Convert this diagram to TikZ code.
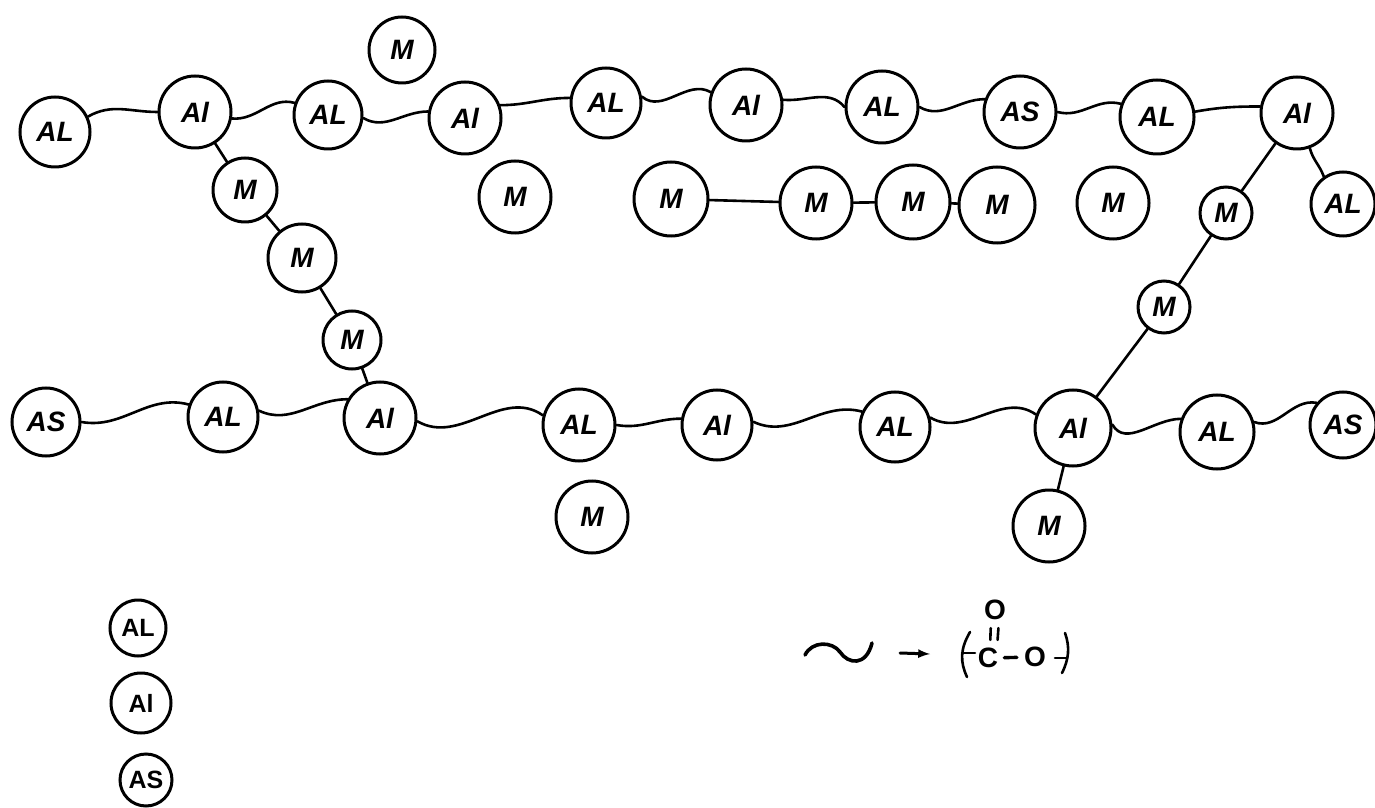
\documentclass[tikz,border=0pt]{standalone}
\usepackage{fontspec}
\setsansfont{Liberation Sans}
\usetikzlibrary{arrows,calc}
\tikzset{
  atom/.style={circle,draw=black,line width=3pt,inner sep=0pt,
    font=\sffamily\bfseries\itshape\fontsize{28}{28}\selectfont},
  keyatom/.style={atom,font=\sffamily\bfseries\fontsize{25}{25}\selectfont},
  bond/.style={line width=2.6pt,line cap=round},
  formula/.style={inner sep=0pt,font=\sffamily\bfseries\fontsize{28}{28}\selectfont}
}

\begin{document}
\begin{tikzpicture}[x=1pt,y=1pt]
\useasboundingbox (0,0) rectangle (1375,807);

% upper chain
\node[atom,minimum size=70pt] (ALa) at (55,675) {AL};
\node[atom,minimum size=72pt] (Ala) at (195,695) {Al};
\node[atom,minimum size=68pt] (ALb) at (328,692) {AL};
\node[atom,minimum size=72pt] (Alb) at (465,689) {Al};
\node[atom,minimum size=70pt] (ALc) at (606,704) {AL};
\node[atom,minimum size=72pt] (Alc) at (746,702) {Al};
\node[atom,minimum size=72pt] (ALd) at (882,700) {AL};
\node[atom,minimum size=72pt] (ASa) at (1020,695) {AS};
\node[atom,minimum size=74pt] (ALe) at (1157,690) {AL};
\node[atom,minimum size=72pt] (Ald) at (1297,694) {Al};
\node[atom,minimum size=64pt] (ALf) at (1343,603) {AL};

% lower chain
\node[atom,minimum size=68pt] (ASb) at (46,385) {AS};
\node[atom,minimum size=70pt] (ALg) at (223,390) {AL};
\node[atom,minimum size=72pt] (Ale) at (380,389) {Al};
\node[atom,minimum size=72pt] (ALh) at (579,382) {AL};
\node[atom,minimum size=70pt] (Alf) at (717,382) {Al};
\node[atom,minimum size=70pt] (ALi) at (895,380) {AL};
\node[atom,minimum size=76pt] (Alg) at (1073,379) {Al};
\node[atom,minimum size=74pt] (ALj) at (1217,375) {AL};
\node[atom,minimum size=66pt] (ASc) at (1343,382) {AS};

% M
\node[atom,minimum size=66pt] (Ma) at (402,757) {M};
\node[atom,minimum size=72pt] (Mb) at (515,610) {M};
\node[atom,minimum size=74pt] (Mc) at (671,608) {M};
\node[atom,minimum size=72pt] (Md) at (816,604) {M};
\node[atom,minimum size=74pt] (Me) at (913,605) {M};
\node[atom,minimum size=76pt] (Mf) at (997,602) {M};
\node[atom,minimum size=72pt] (Mg) at (1113,604) {M};
\node[atom,minimum size=52pt] (Mh) at (1226,594) {M};
\node[atom,minimum size=52pt] (Mi) at (1164,500) {M};
\node[atom,minimum size=64pt] (Mj) at (245,617) {M};
\node[atom,minimum size=68pt] (Mk) at (302,549) {M};
\node[atom,minimum size=58pt] (Ml) at (352,467) {M};
\node[atom,minimum size=72pt] (Mm) at (592,290) {M};
\node[atom,minimum size=72pt] (Mn) at (1049,281) {M};

% key
\node[keyatom,minimum size=56pt] (keyAL) at (138,179) {AL};
\node[keyatom,minimum size=60pt] (keyAl) at (141,104) {Al};
\node[keyatom,minimum size=52pt] (keyAS) at (146,27) {AS};

\draw[bond] (ALa.25) to[out=30,in=180] (Ala.180);
\draw[bond] (Ala.-10) to[out=-5,in=165] (ALb.160);
\draw[bond] (ALb.-5) to[out=-30,in=180] (Alb.170);
\draw[bond] (Alb.20) to[out=0,in=180] (ALc.172);
\draw[bond] (ALc.10) to[out=-40,in=150] (Alc.160);
\draw[bond] (Alc.8) to[out=-5,in=130] (ALd.180);
\draw[bond] (ALd.0) to[out=-30,in=180] (ASa.160);
\draw[bond] (ASa.0) to[out=-15,in=165] (ALe.160);
\draw[bond] (ALe.8) to[out=10,in=180] (Ald.170);
\draw[bond] (Ald.-70) to[out=-75,in=110] (ALf.125);

\draw[bond] (ASb.0) to[out=-10,in=165] (ALg.160);
\draw[bond] (ALg.10) to[out=-25,in=180] (Ale.150);
\draw[bond] (Ale.-5) to[out=-30,in=145] (ALh.165);
\draw[bond] (ALh.0) to[out=-10,in=180] (Alf.170);
\draw[bond] (Alf.5) to[out=-25,in=165] (ALi.155);
\draw[bond] (ALi.15) to[out=-30,in=145] (Alg.160);
\draw[bond] (Alg.5) to[out=-60,in=180] (ALj.160);
\draw[bond] (ALj.15) to[out=-20,in=170] (ASc.140);

\draw[bond] (Ala) -- (Mj);
\draw[bond] (Mj) -- (Mk);
\draw[bond] (Mk) -- (Ml);
\draw[bond] (Ml) -- (Ale);
\draw[bond] (Ald) -- (Mh);
\draw[bond] (Mh) -- (Mi);
\draw[bond] (Mi) -- (Alg);
\draw[bond] (Alg) -- (Mn);
\draw[bond] (Mc) -- (Md);
\draw[bond] (Md) -- (Me);
\draw[bond] (Me) -- (Mf);

% formula
\coordinate (tildeL) at (805,152);
\coordinate (tildeR) at (872,164);
\coordinate (arrowL) at (900,154);
\coordinate (arrowR) at (930,153);
\draw[bond,line width=3.6pt] (tildeL) .. controls (812,166) and (832,166) .. (840,155)
  .. controls (848,143) and (866,140) .. (tildeR);
\draw[bond,line width=3pt,-latex] (arrowL) -- (arrowR);
\node[formula] (Otop) at (995,197) {O};
\node[formula] (Carb) at (988,149) {C};
\node[formula] (Oeth) at (1035,150) {O};
\draw[bond,shorten >=8pt,shorten <=8pt] ([xshift=-4pt]Otop.south) -- ([xshift=2pt]Carb.north);
\draw[bond,shorten >=8pt,shorten <=8pt] ([xshift=4pt]Otop.south) -- ([xshift=9pt]Carb.north);
\draw[bond,line width=3.4pt,shorten >=7pt,shorten <=6pt] (Carb) -- (Oeth);
\draw[bond] (970,175) .. controls (960,158) and (960,145) .. (967,130);
\draw[bond] (962,154) -- (975,154);
\draw[bond] (1065,174) .. controls (1070,160) and (1069,148) .. (1062,134);
\draw[bond] (1055,149) -- (1067,149);
\end{tikzpicture}
\end{document}
